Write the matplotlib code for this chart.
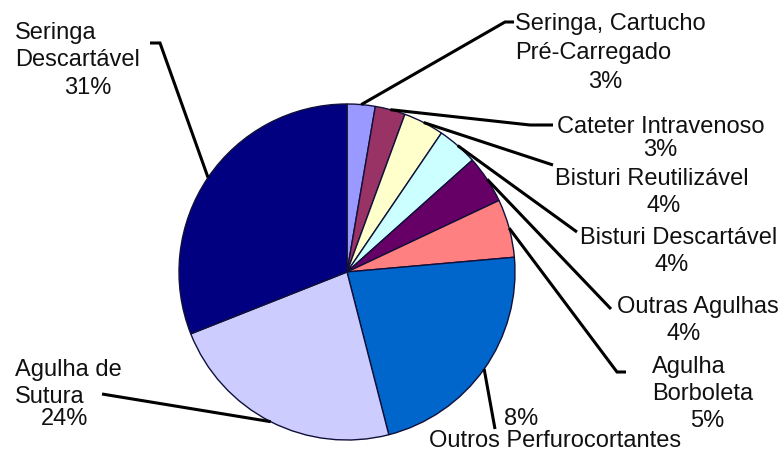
import matplotlib
matplotlib.use('Agg')
import matplotlib.pyplot as plt
import numpy as np

# dados (sentido horário a partir do topo)
categorias = ['Seringa, Cartucho\nPré-Carregado', 'Cateter Intravenoso', 'Bisturi Reutilizável',
              'Bisturi Descartável', 'Outras Agulhas', 'Agulha\nBorboleta',
              'Outros Perfurocortantes', 'Agulha de\nSutura', 'Seringa\nDescartável']
valores = [2.7, 2.9, 3.9, 3.9, 4.6, 5.6, 22.4, 23.0, 31.0]
rotulos_pct = ['3%', '3%', '4%', '4%', '4%', '5%', '8%', '24%', '31%']
cores = ['#9999FF', '#993366', '#FFFFCC', '#CCFFFF', '#660066', '#FF8080',
         '#0066CC', '#CCCCFF', '#000080']

W, H = 784, 452

def px(x, y):
    # pixel (top-left origin) -> data coords
    return x, H - y

# label layout in pixels
name_pos = [(515, 24, 'left'), (557, 127, 'left'), (555, 179, 'left'), (580, 238, 'left'),
            (617, 307, 'left'), (652, 367, 'left'), (555, 441, 'center'), (15, 370, 'left'),
            (15, 33, 'left')]
line_gap = [29, 27, 27, 27, 27, 27, 27, 27, 27]
pct_pos = [(605, 82), (660, 150), (664, 206), (672, 265), (684, 334), (707, 421),
           (521, 419), (65, 419), (88, 88)]
elbows = [[(505, 23), (514, 23)], [(530, 126), (553, 126)], [(553, 166)], [(577, 233)],
          [(611, 310)], [(617, 373), (626, 373)], [(495, 430)], [(102, 395)],
          [(160, 44), (150, 44)]]

fig = plt.figure(figsize=(W / 100, H / 100), dpi=100)
ax = fig.add_axes([0, 0, 1, 1])
ax.set_xlim(0, W)
ax.set_ylim(0, H)
ax.axis('off')

centro = px(347, 273)
raio = 168
wedges, _ = ax.pie(valores, colors=cores, startangle=90, counterclock=False,
                   center=centro, radius=raio, frame=True,
                   wedgeprops=dict(edgecolor='#10103a', linewidth=1.0))
ax.set_xlim(0, W)
ax.set_ylim(0, H)
ax.set_aspect('equal')
ax.axis('off')

fonte = dict(family=['Liberation Sans', 'DejaVu Sans'], size=17, color='#111111')

for i, w in enumerate(wedges):
    ang = np.deg2rad((w.theta1 + w.theta2) / 2)
    x0 = centro[0] + raio * np.cos(ang)
    y0 = centro[1] + raio * np.sin(ang)
    xs = [x0] + [px(*p)[0] for p in elbows[i]]
    ys = [y0] + [px(*p)[1] for p in elbows[i]]
    ax.plot(xs, ys, color='black', lw=2.2, solid_capstyle='butt', solid_joinstyle='miter')

    nx, ny, ha = name_pos[i]
    for k, linha in enumerate(categorias[i].split('\n')):
        ax.text(*px(nx, ny + k * line_gap[i]), linha, ha=ha, va='center', **fonte)
    ax.text(*px(*pct_pos[i]), rotulos_pct[i], ha='center', va='center', **fonte)

fig.savefig('out.png', dpi=100)
